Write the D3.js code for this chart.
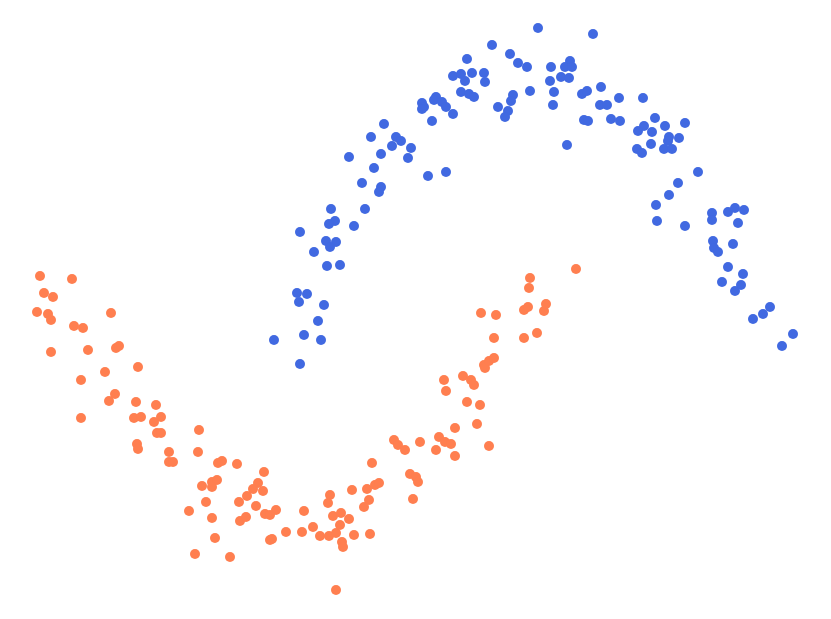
<!DOCTYPE html>
<html>
<head>
<meta charset="utf-8">
<script src="https://cdn.jsdelivr.net/npm/d3@7"></script>
<style>
  html, body { margin: 0; padding: 0; background: #fff; }
</style>
</head>
<body>
<div id="chart"></div>
<script>
// two interleaved half-moons
var orangeX = [-2.60, -2.28, -2.56, -2.47, -2.63, -2.52, -2.49, -1.89, -2.26, -2.17,
    -2.49, -2.12, -1.84, -1.81, -1.95, -1.62, -2.19, -1.85, -1.91, -1.64,
    -1.44, -2.19, -1.66, -1.59, -1.39, -1.46, -1.43, -1.39, -1.01, -1.63,
    -1.62, -1.31, -1.02, -1.31, -1.27, -0.82, -0.78, -0.63, -0.36, -0.98,
    -0.88, -0.83, -0.88, -0.94, -1.11, -0.88, -0.85, -1.05, -0.70, -0.42,
    -0.47, -0.37, -0.53, -0.61, -0.44, -0.24, -0.35, -0.30, -0.60, -0.54,
    0.04, 0.13, -0.14, 0.02, -0.30, -0.28, 0.20, 0.29, 0.36, 0.30,
    0.28, 0.33, 0.41, 0.49, 0.40, 0.54, 0.70, 0.42, 0.43, 0.36,
    0.52, 0.67, 0.75, 0.79, 0.69, 0.64, 0.72, 1.10, 1.16, 1.18,
    1.13, 0.94, 0.98, 1.05, 1.20, 1.39, 1.45, 1.51, 1.36, 1.55,
    1.55, 1.67, 1.80, 1.77, 1.89, 1.44, 1.46, 1.63, 1.71, 1.74,
    1.84, 1.85, 1.89, 1.94, 1.94, 1.81, 1.96, 2.24, 2.37, 2.24,
    2.28, 2.44, 2.46, 2.29, 2.30, 2.76];
var orangeY = [1.24, 1.21, 1.07, 1.03, 0.88, 0.86, 0.80, 0.87, 0.74, 0.72,
    0.48, 0.50, 0.52, 0.54, 0.28, 0.33, 0.20, 0.06, -0.01, -0.02,
    -0.05, -0.18, -0.18, -0.17, -0.17, -0.22, -0.33, -0.33, -0.30, -0.44,
    -0.49, -0.52, -0.52, -0.62, -0.62, -0.63, -0.61, -0.64, -0.72, -0.86,
    -0.82, -0.80, -0.87, -1.02, -1.11, -1.18, -1.38, -1.54, -1.57, -0.83,
    -0.89, -0.91, -0.96, -1.02, -1.06, -1.10, -1.14, -1.15, -1.21, -1.17,
    -1.11, -1.27, -1.32, -1.32, -1.40, -1.39, -1.36, -1.36, -1.33, -0.95,
    -1.03, -1.16, -1.13, -1.19, -1.25, -1.35, -1.34, -1.42, -1.47, -1.90,
    -0.90, -0.89, -0.85, -0.83, -1.00, -1.07, -0.63, -0.74, -0.77, -0.82,
    -0.99, -0.40, -0.45, -0.50, -0.42, -0.37, -0.42, -0.44, -0.50, -0.56,
    -0.28, -0.02, -0.05, -0.24, -0.46, 0.20, 0.09, 0.24, 0.20, 0.15,
    0.35, 0.32, 0.39, 0.42, 0.62, 0.87, 0.85, 0.62, 0.67, 0.90,
    0.93, 0.89, 0.96, 1.12, 1.22, 1.31];

var blueX = [-0.26, 0.00, 0.04, 0.21, 0.18, 0.24, -0.03, 0.07, -0.01, 0.27,
    0.40, 0.14, 0.26, 0.36, 0.30, 0.00, 0.35, 0.29, 0.54, 0.31,
    0.65, 0.62, 0.81, 0.79, 0.74, 0.49, 0.81, 0.92, 1.11, 1.08,
    0.71, 0.96, 1.01, 0.84, 1.28, 1.46, 1.32, 1.53, 1.22, 1.24,
    1.22, 1.36, 1.34, 1.42, 1.46, 1.61, 1.69, 1.74, 1.53, 1.61,
    1.65, 1.72, 1.84, 1.85, 1.67, 1.92, 2.10, 2.18, 2.27, 1.98,
    2.08, 2.05, 2.13, 2.11, 2.30, 2.38, 2.93, 2.51, 2.70, 2.65,
    2.72, 2.61, 2.69, 2.50, 2.54, 2.53, 2.82, 2.87, 3.01, 3.00,
    3.07, 3.19, 3.43, 2.84, 2.88, 3.11, 3.20, 2.67, 3.55, 3.65,
    3.44, 3.38, 3.52, 3.85, 3.69, 3.68, 3.79, 3.51, 3.37, 3.42,
    3.64, 3.72, 3.98, 3.78, 3.69, 3.56, 3.57, 3.85, 4.12, 4.12,
    4.28, 4.35, 4.44, 4.38, 4.13, 4.14, 4.18, 4.33, 4.28, 4.43,
    4.22, 4.41, 4.35, 4.70, 4.63, 4.53, 4.93, 4.82];
var blueY = [0.60, 0.36, 0.65, 0.60, 0.79, 0.95, 1.07, 1.06, 0.98, 1.34,
    1.35, 1.48, 1.59, 1.58, 1.53, 1.68, 1.79, 1.76, 1.74, 1.91,
    1.91, 2.17, 2.13, 2.08, 2.32, 2.43, 2.46, 2.54, 2.52, 2.42,
    2.63, 2.63, 2.59, 2.76, 2.24, 2.28, 2.79, 2.86, 2.97, 2.93,
    2.91, 3.03, 3.00, 2.98, 2.93, 3.08, 3.06, 3.03, 3.24, 3.26,
    3.19, 3.27, 3.27, 3.18, 3.41, 3.55, 3.46, 3.37, 3.33, 2.93,
    2.89, 2.83, 3.05, 2.99, 3.09, 3.72, 3.66, 3.33, 3.39, 3.33,
    3.33, 3.23, 3.22, 3.19, 3.08, 2.95, 3.06, 3.09, 3.13, 2.95,
    2.95, 3.02, 3.02, 2.80, 2.79, 2.81, 2.79, 2.55, 2.82, 2.74,
    2.74, 2.69, 2.68, 2.77, 2.63, 2.59, 2.62, 2.56, 2.51, 2.47,
    2.51, 2.51, 2.28, 2.17, 2.05, 1.95, 1.79, 1.74, 1.87, 1.80,
    1.88, 1.92, 1.90, 1.77, 1.59, 1.52, 1.48, 1.56, 1.33, 1.26,
    1.18, 1.15, 1.09, 0.93, 0.86, 0.81, 0.66, 0.54];

var width = 831,
    height = 619,
    pointRadius = 5;

var seriesList = [
    {name: "moon 0", xs: blueX, ys: blueY, fill: "#4169e1"},
    {name: "moon 1", xs: orangeX, ys: orangeY, fill: "#ff7f50"}
];

var x = d3.scaleLinear()
    .domain([-3.0, 5.31])
    .range([0, width]);

var y = d3.scaleLinear()
    .domain([-2.19, 4.0])
    .range([height, 0]);

var svg = d3.select("#chart")
    .append("svg")
    .attr("width", width)
    .attr("height", height);

seriesList.forEach(function(series) {
    var pts = series.xs.map(function(v, i) {
        return {x: v, y: series.ys[i]};
    });
    svg.append("g")
        .attr("class", "moon")
        .selectAll("circle")
        .data(pts)
        .enter()
        .append("circle")
        .attr("cx", d => x(d.x))
        .attr("cy", d => y(d.y))
        .attr("r", pointRadius)
        .style("fill", series.fill);
});
</script>
</body>
</html>
